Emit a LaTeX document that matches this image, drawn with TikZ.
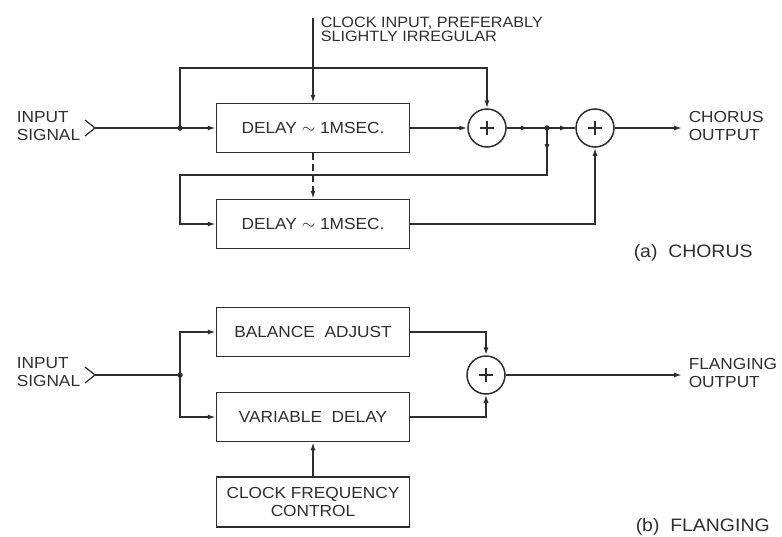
\documentclass[tikz,border=0pt]{standalone}
\usepackage{fontspec}
\setmainfont{Liberation Sans}[FakeStretch=1.08]
\usetikzlibrary{arrows.meta,decorations.markings}
\definecolor{ink}{HTML}{2E2E2E}
\begin{document}
\begin{tikzpicture}[x=1pt,y=-1pt, line width=1.5pt, ink,
  every node/.style={text=ink},
  box/.style={draw, minimum width=193pt, minimum height=49pt, inner sep=0pt, align=center,
    font=\fontsize{16}{19}\selectfont},
  adder/.style={draw, circle, minimum size=38pt, inner sep=0pt},
  lbl/.style={inner sep=0pt, align=left, font=\fontsize{16}{18}\selectfont},
  clocktxt/.style={inner sep=0pt, align=left, font=\fontsize{15}{14}\selectfont},
  captxt/.style={inner sep=0pt, anchor=west, font=\fontsize{18}{20}\selectfont},
  jdot/.style={circle, fill=ink, inner sep=0pt, minimum size=5.5pt},
  arr/.style={-{Latex[length=8pt,width=5pt]}},
  midarr/.style={postaction={decorate},decoration={markings,mark=at position #1 with {\arrow{Latex[length=8pt,width=5pt]}}}}
]
\useasboundingbox (0,0) rectangle (782,536);

% ---------- (a) chorus ----------
\node[lbl, anchor=west] (inA) at (16,126) {INPUT\\SIGNAL};
\coordinate (gA) at (95,128);
\draw[line width=1.2pt] (85,120) -- (gA) -- (85,136);
\node[box] (d1) at (313,128) {DELAY $\sim$ 1MSEC.};
\node[box] (d2) at (313,224) {DELAY $\sim$ 1MSEC.};
\node[adder] (a1) at (487,128) {};
\node[adder] (a2) at (595,128) {};
\node[jdot] (j1) at (180,128) {};
\node[jdot] (j2) at (547,128) {};
\coordinate (clk) at (313,18);
\coordinate (fb) at (180,175);
\coordinate (outA) at (682,128);

\node[clocktxt, anchor=north west] (clktext) at (320,16) {CLOCK INPUT, PREFERABLY\\SLIGHTLY IRREGULAR};

\draw[arr] (gA) -- (d1.west);
\draw[arr] (j1.center) |- (313,68) -| (a1.north);
\draw[arr] (clk) -- (d1.north);
\draw[arr, dash pattern=on 7pt off 4pt] (d1.south) -- (d2.north);
\draw[arr] (d1.east) -- (a1.west);
\draw[midarr=0.55] (a1.east) -- (j2.center);
\draw[midarr=0.75] (j2.center) -- (a2.west);
\draw[arr, midarr=24pt] (j2.center) |- (fb) |- (d2.west);
\draw[arr] (d2.east) -| (a2.south);
\draw[arr] (a2.east) -- (outA);
\node[lbl, anchor=west] (outAt) at (688,126) {CHORUS\\OUTPUT};
\node[captxt] (capA) at (633,253) {(a)\ \ CHORUS};

% ---------- (b) flanging ----------
\node[lbl, anchor=west] (inB) at (16,372) {INPUT\\SIGNAL};
\coordinate (gB) at (95,375);
\draw[line width=1.2pt] (85,367) -- (gB) -- (85,383);
\node[box] (bal) at (313,332) {BALANCE\ \ ADJUST};
\node[box] (var) at (313,417) {VARIABLE\ \ DELAY};
\node[box, minimum height=50pt, font=\fontsize{16}{18}\selectfont] (cfc) at (313,502) {CLOCK FREQUENCY\\CONTROL};
\node[adder] (a3) at (486,375) {};
\node[jdot] (j3) at (180,375) {};
\coordinate (outB) at (682,375);

\draw (gB) -- (j3.center);
\draw[arr] (j3.center) |- (bal.west);
\draw[arr] (j3.center) |- (var.west);
\draw[arr] (bal.east) -| (a3.north);
\draw[arr] (var.east) -| (a3.south);
\draw[arr] (cfc.north) -- (var.south);
\draw[arr] (a3.east) -- (outB);
\node[lbl, anchor=west] (outBt) at (688,373) {FLANGING\\OUTPUT};
\node[captxt] (capB) at (635,527) {(b)\ \ FLANGING};

% plus signs in adders
\foreach \a in {a1,a2,a3}{
  \draw[line width=1.1pt] ([xshift=-7pt]\a.center) -- ([xshift=7pt]\a.center);
  \draw[line width=1.1pt] ([yshift=-7pt]\a.center) -- ([yshift=7pt]\a.center);
}
\end{tikzpicture}
\end{document}
